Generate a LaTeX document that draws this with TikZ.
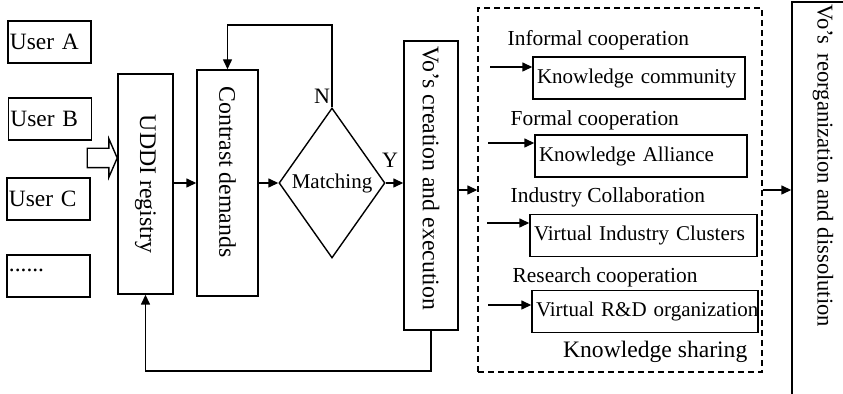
\documentclass[tikz,border=0pt]{standalone}
\usepackage{graphicx}
\usepackage{fontspec}
\setmainfont{Liberation Serif}
\usetikzlibrary{positioning, arrows.meta, shapes.geometric, shapes.arrows}

\begin{document}
\begin{tikzpicture}[x=0.5pt, y=-0.5pt, line width=0.7pt,
    user/.style={draw, text width=39.5pt, inner xsep=1pt, inner ysep=0pt, minimum height=21pt, align=left, font=\fontsize{11.7}{13}\selectfont},
    vbox/.style={draw, inner sep=1pt, font=\fontsize{11.9}{13}\selectfont},
    kbox/.style={draw, text width=#1, inner xsep=2pt, inner ysep=0pt, minimum height=21pt, align=left, font=\fontsize{10.5}{12}\selectfont},
    klabel/.style={inner sep=0pt, font=\fontsize{10.7}{12}\selectfont},
    arr/.style={-{Triangle[length=5pt, width=4.5pt]}}]

    \useasboundingbox (0,0) rectangle (843,394);
    \clip (0,0) rectangle (843,394);

    % users and the registry
    \node[user] (ua) at (49.5,42) {User A};
    \node[user] (ub) at (50,119) {User B};
    \node[user] (uc) at (48.5,199) {User C};
    \node[user] (ud) at (48.5,276) {\raisebox{6pt}{......}};
    \node[single arrow, draw, minimum height=15pt, inner xsep=0pt, inner ysep=4.5pt, single arrow head extend=4.75pt, single arrow tip angle=133, single arrow head indent=0pt, anchor=tip] (inarr) at (118,158) {};

    \node[vbox, minimum width=27.5pt, minimum height=110pt] (uddi) at (145.5,184) {\rotatebox{-90}{UDDI registry}};
    \node[vbox, minimum width=30.5pt, minimum height=113pt] (contrast) at (227.5,183) {\rotatebox{-90}{Contrast demands\hspace{11pt}}};
    \node[diamond, draw, minimum width=53pt, minimum height=75pt, inner sep=0pt, font=\fontsize{10.5}{12}\selectfont] (match) at (332,183) {Matching};
    \node[vbox, minimum width=27pt, minimum height=144.5pt] (vo) at (431,185.5) {\rotatebox{-90}{Vo’s creation and execution\hspace{7pt}}};
    \node[font=\fontsize{11}{12}\selectfont, inner sep=0pt] (nlab) at (322,96) {N};
    \node[font=\fontsize{11}{12}\selectfont, inner sep=0pt] (ylab) at (390,160) {Y};

    \coordinate (fbtop) at (0,25);
    \coordinate (fbbot) at (0,371);
    \draw[arr] (uddi.east |- match) -- (contrast.west |- match);
    \draw[arr] (contrast.east |- match) -- (match.west);
    \draw[arr] (match.east) -- (vo.west |- match);
    \draw[arr] (match.north) -- (match.north |- fbtop) -| (contrast.north);
    \draw[arr] (vo.south) -- (vo.south |- fbbot) -| (uddi.south);

    % knowledge sharing
    \node[draw, dash pattern=on 3pt off 2pt, minimum width=142pt, minimum height=182pt] (share) at (620,190) {};
    \node[klabel, anchor=west] (l1) at (507,40) {Informal cooperation};
    \node[kbox=102pt] (k1) at (639,78) {\mbox{Knowledge community}};
    \node[klabel, anchor=west] (l2) at (510,120) {Formal cooperation};
    \node[kbox=102pt] (k2) at (641,156) {\mbox{Knowledge Alliance}};
    \node[klabel, anchor=west] (l3) at (510,197) {Industry Collaboration};
    \node[kbox=109.5pt] (k3) at (643.5,235.5) {\mbox{Virtual Industry Clusters}};
    \node[klabel, anchor=west] (l4) at (512,277) {Research cooperation};
    \node[kbox=109pt] (k4) at (645,311.5) {\mbox{Virtual R\&D organization}};
    \node[inner sep=0pt, anchor=east, font=\fontsize{11.8}{13}\selectfont] (ks) at (748,352) {Knowledge sharing};

    \coordinate (t1) at (490,67);
    \coordinate (t2) at (488,143);
    \coordinate (t3) at (487,223);
    \coordinate (t4) at (488,305);
    \draw[arr] (t1) -- (k1.west |- t1);
    \draw[arr] (t2) -- (k2.west |- t2);
    \draw[arr] (t3) -- (k3.west |- t3);
    \draw[arr] (t4) -- (k4.west |- t4);

    % reorganization
    \node[vbox, minimum width=31pt, minimum height=199pt, font=\fontsize{11.3}{13}\selectfont] (reorg) at (823,201) {\rotatebox{-90}{\makebox[196pt][l]{Vo’s\hspace{0.4em}reorganization and dissolution}}};
    \draw[arr] (vo.east |- share) -- (share.west);
    \draw[arr] (share.east) -- (reorg.west |- share.east);
\end{tikzpicture}
\end{document}
